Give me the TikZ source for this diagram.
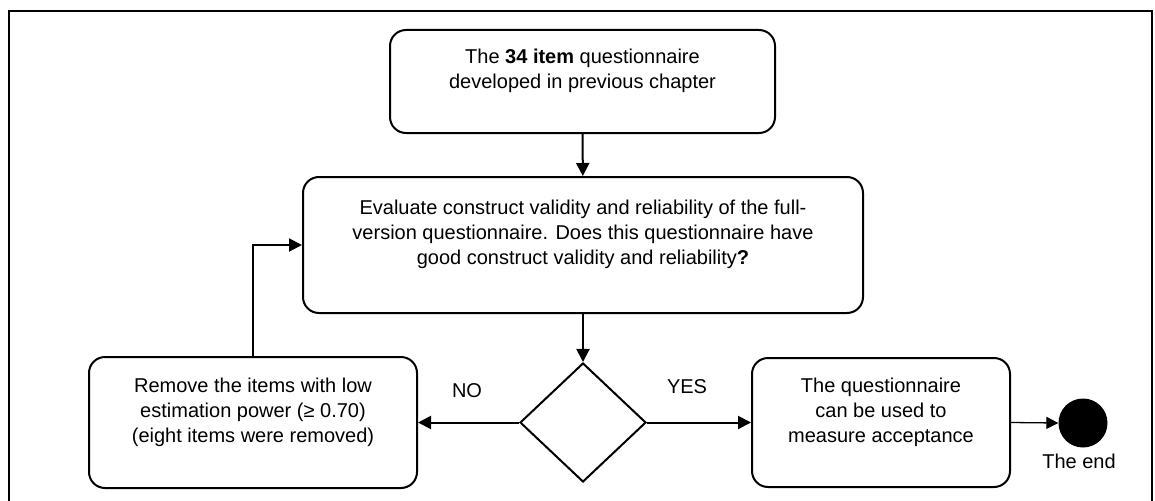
\documentclass[tikz,border=0pt]{standalone}
\usepackage{fontspec}
\setmainfont{Liberation Sans}
\usetikzlibrary{arrows.meta,shapes.geometric}
\begin{document}
\begin{tikzpicture}[x=1pt,y=-1pt,
  font=\fontsize{20}{25}\selectfont,
  every node/.style={inner sep=0pt},
  box/.style={draw,line width=2pt,rounded corners=16pt,align=center},
  decision/.style={draw,line width=2pt,diamond,inner sep=0pt},
  flow/.style={line width=2pt,-{Triangle[length=13pt,width=13pt]}},
  thinflow/.style={line width=1.3pt,-{Triangle[length=12pt,width=12pt]}}]
  \useasboundingbox (0,0) rectangle (1155,500);
  % outer frame, open at the bottom
  \draw[line width=2.5pt] (9,505) -- (9,11) -- (1152,11) -- (1152,505);

  \node[box,minimum width=385pt,minimum height=103pt] (start) at (582.5,81.5)
    {The \textbf{34 item} questionnaire\\developed in previous chapter\\\mbox{}};
  \node[box,minimum width=560pt,minimum height=136pt] (eval) at (583,245)
    {Evaluate construct validity and reliability of the full-\\
     version questionnaire. Does this questionnaire have\\
     good construct validity and reliability\textbf{?}\\\mbox{}};
  \node[decision,minimum width=126pt,minimum height=119pt] (dec) at (583,422.5) {};
  \node[box,minimum width=328pt,minimum height=131pt] (remove) at (253,422.5)
    {Remove the items with low\\estimation power (≥ 0.70)\\(eight items were removed)\\\mbox{}};
  \node[box,minimum width=258pt,minimum height=129pt] (accept) at (881,422.5)
    {The questionnaire\\can be used to\\measure acceptance\\\mbox{}};
  \node[circle,fill=black,minimum size=49pt] (end) at (1083,423) {};
  \node (endlabel) at (1079,461) {The end};
  \node (no) at (467,391) {NO};
  \node (yes) at (687,387) {YES};

  \draw[flow] (start) -- (eval);
  \draw[flow] (eval) -- (dec);
  \draw[flow] (dec.west) -- (remove.east);
  \draw[flow] (dec.east) -- (accept.west);
  \draw[thinflow] (accept.east) -- (end.west);
  \draw[flow] (remove.north) |- (eval.west);
\end{tikzpicture}
\end{document}
